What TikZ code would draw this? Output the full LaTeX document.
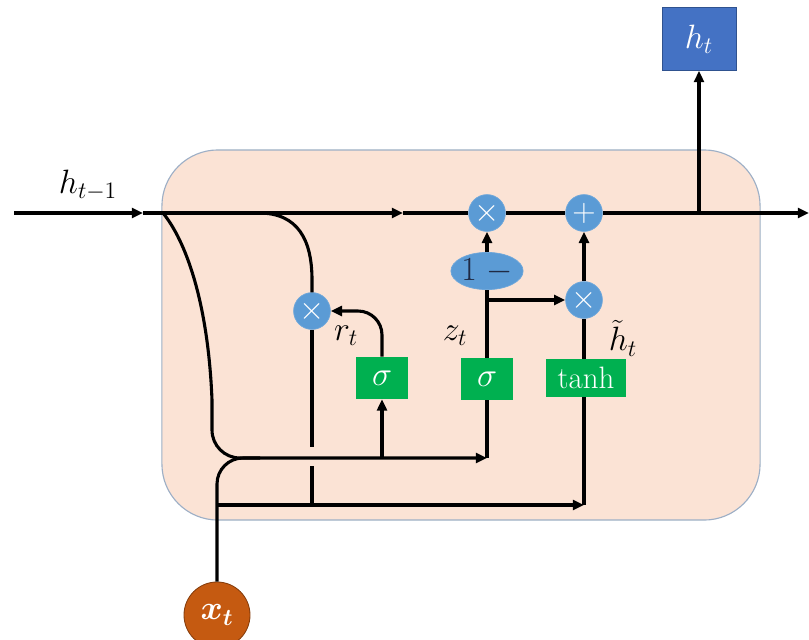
\documentclass[tikz,border=0pt]{standalone}
\usepackage{fix-cm}
\usepackage{amsmath,bm}
\usepackage{tikz}
\usetikzlibrary{shapes.geometric, arrows.meta, positioning}
\usepackage{xcolor}

\definecolor{cellfill}{HTML}{FBE3D5}
\definecolor{cellline}{HTML}{9DAFC6}
\definecolor{opblue}{HTML}{5B9BD5}
\definecolor{opline}{HTML}{6FA7DA}
\definecolor{gategreen}{HTML}{00B050}
\definecolor{outblue}{HTML}{4472C4}
\definecolor{outline}{HTML}{2F528F}
\definecolor{inorange}{HTML}{C55A11}
\definecolor{inline}{HTML}{843C0C}
\definecolor{minusnavy}{HTML}{1F2A44}

\newcommand\lblsize{\fontsize{24}{28}\selectfont}
\newcommand\opsize{\fontsize{23}{26}\selectfont}
\newcommand\tanhsize{\fontsize{22}{26}\selectfont}

\begin{document}
\begin{tikzpicture}[x=0.025cm, y=-0.025cm,
  cell/.style={rectangle, draw=cellline, line width=0.8pt, fill=cellfill, rounded corners=1.4cm, minimum width=14.95cm, minimum height=9.25cm},
  op/.style={circle, fill=opblue, draw=opline, line width=0.5pt, minimum size=0.92cm, inner sep=0pt, text=white, font=\opsize},
  oneminus/.style={ellipse, fill=opblue, draw=opline, line width=0.5pt, minimum width=1.72cm, minimum height=0.93cm, inner sep=0pt, text=minusnavy, font=\lblsize},
  gate/.style={rectangle, fill=gategreen, text=white, minimum width=1.3cm, minimum height=1.05cm, inner sep=1pt, font=\lblsize},
  outbox/.style={rectangle, fill=outblue, draw=outline, line width=0.6pt, text=white, minimum width=1.85cm, minimum height=1.57cm, font=\lblsize},
  inbox/.style={circle, fill=inorange, draw=inline, line width=0.6pt, text=white, minimum size=1.65cm, inner sep=0pt, font=\lblsize},
  lbl/.style={font=\lblsize, inner sep=1pt},
  wire/.style={line width=2.2pt},
  arrow/.style={-{Triangle[length=8pt, width=7pt]}, line width=2.2pt}
]
  \useasboundingbox (0,0) rectangle (809,639);

  % Cell body
  \node[cell] (cell) at (461,335) {};

  % Operators on the state line
  \node[op] (mulz) at (487,213) {$\times$};
  \node[op] (add) at (584,213) {$+$};
  \node[oneminus] (omz) at (487,271) {$1\;-$};
  \node[op] (mulh) at (584,300) {$\times$};
  \node[op] (mulr) at (312,311) {$\times$};

  % Gates
  \node[gate] (sigr) at (382,378) {$\sigma$};
  \node[gate] (sigz) at (487,379) {$\sigma$};
  \node[gate, minimum width=2cm, minimum height=0.95cm, font=\tanhsize] (tanh) at (586,378) {tanh};

  % Output and input
  \node[outbox] (ht) at (699,39) {$h_t$};
  \node[inbox] (xt) at (217,615) {$\bm{x_t}$};

  % Labels
  \node[lbl] (hprev) at (88,185) {$h_{t-1}$};
  \node[lbl] (rlbl) at (346,336) {$r_t$};
  \node[lbl] (zlbl) at (455,336) {$z_t$};
  \node[lbl] (hlbl) at (623,338) {$\tilde{h}_t$};

  % Junctions
  \coordinate (in) at (14,213);
  \coordinate (out) at (809,213);
  \coordinate (a1) at (143,213);
  \coordinate (a2) at (403,213);
  \coordinate (sl) at (163,213);
  \coordinate (sr) at (259,213);
  \coordinate (tap) at (699,213);
  \coordinate (jz) at (487,458);
  \coordinate (jr) at (382,458);
  \coordinate (zb) at (487,300);
  \coordinate (jx) at (217,505);
  \coordinate (jh) at (584,505);
  \coordinate (gapt) at (312,447);
  \coordinate (gapb) at (312,466);
  \coordinate (jm) at (312,505);

  % State line
  \draw[arrow] (in) -- (a1);
  \draw[arrow] (a1) -- (a2);
  \draw[wire] (a2) -- (mulz);
  \draw[wire] (mulz) -- (add);
  \draw[arrow] (add) -- (out);
  \draw[arrow] (tap) -- (ht.south);

  % Previous state into the gates
  \draw[arrow] (sl) .. controls (185,240) and (208,300) .. (212,400) [rounded corners=0.7cm] -- (212,458) -- (jz);
  \draw[wire] (sr) .. controls (298,213) and (312,240) .. (312,280) -- (mulr.north);

  % Input
  \draw[wire] (xt.north) [rounded corners=0.65cm] -- (217,458) -- (260,458);
  \draw[arrow] (jx) -- (jh);

  % Reset gate
  \draw[arrow] (jr) -- (sigr.south);
  \draw[arrow, rounded corners=0.6cm] (sigr.north) -- (382,311) -- (mulr.east);
  \draw[wire] (mulr.south) -- (gapt);
  \draw[wire] (gapb) -- (jm);

  % Update gate
  \draw[wire] (jz) -- (sigz.south);
  \draw[wire] (sigz.north) -- (omz.south);
  \draw[arrow] (omz.north) -- (mulz.south);
  \draw[arrow] (zb) -- (mulh.west);

  % Candidate
  \draw[wire] (jh) -- (jh |- tanh.south);
  \draw[wire] (mulh |- tanh.north) -- (mulh.south);
  \draw[arrow] (mulh.north) -- (add.south);
\end{tikzpicture}
\end{document}
